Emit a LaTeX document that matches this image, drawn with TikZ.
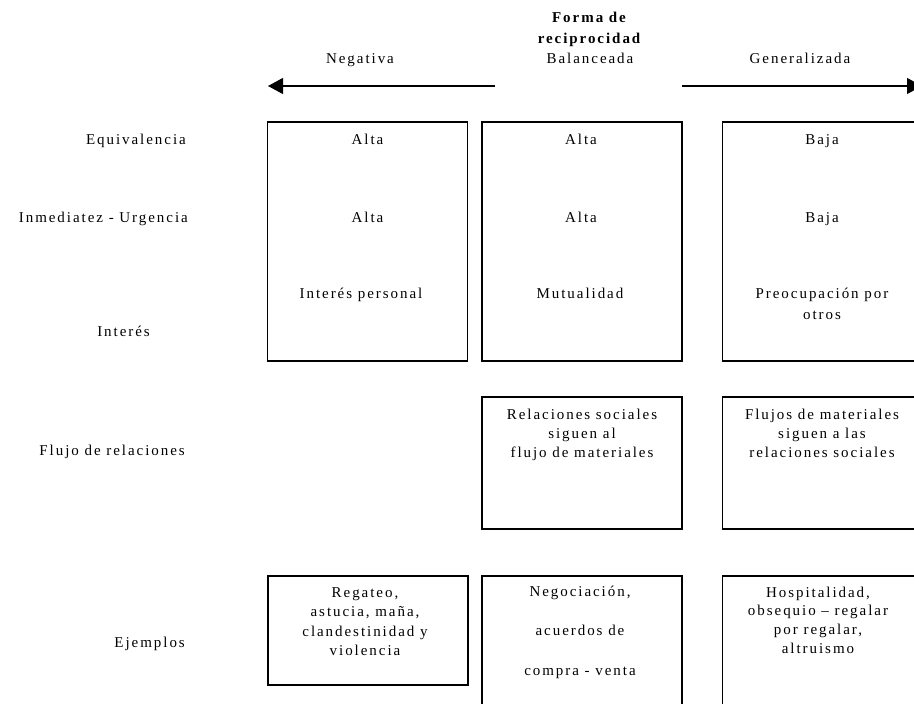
\documentclass[tikz,border=0pt]{standalone}
\usepackage{fontspec}
\setmainfont{Liberation Serif}[LetterSpace=13]
\usetikzlibrary{arrows.meta}

% multi-line nodes sit on the baseline of their last line
\tikzset{
  txt/.style={inner sep=0pt, align=center, text=black,
    font=\fontsize{15}{19.5}\selectfont},
  lbl/.style={txt, anchor=base east},
  cell/.style={draw=black, line width=1.1pt, minimum width=200pt, inner sep=0pt},
  dirarrow/.style={line width=1.1pt, -{Triangle[length=15pt,width=16pt]}}
}

\begin{document}
\begin{tikzpicture}[x=1pt, y=-1pt]
\path[use as bounding box, clip] (0,0) rectangle (914,704);

% heading and the two directions
\node[txt, anchor=base, font=\fontsize{15}{20}\selectfont] (head) at (590,63)
  {\textbf{Forma de}\\\textbf{reciprocidad}\\Balanceada};
\node[txt, anchor=base] (neg) at (360,63) {Negativa};
\node[txt, anchor=base] (gen) at (800,63) {Generalizada};
\coordinate (negstart) at (495,86);
\coordinate (negtip) at (268,86);
\coordinate (genstart) at (682,86);
\coordinate (gentip) at (922,86);
\draw[dirarrow] (negstart) -- (negtip);
\draw[dirarrow] (genstart) -- (gentip);

% row labels
\node[lbl] (equiv) at (186,144) {Equivalencia};
\node[lbl] (inmed) at (188,222) {Inmediatez - Urgencia};
\node[lbl] (inter) at (150,336) {Interés};
\node[lbl] (flujo) at (185,455) {Flujo de relaciones};
\node[lbl] (ejem) at (185,647) {Ejemplos};

% first block: equivalence, immediacy, interest
\node[cell, minimum height=239pt] (negA) at (367.5,241.5) {};
\node[cell, minimum height=239pt] (balA) at (582,241.5) {};
\node[cell, minimum height=239pt] (genA) at (822.5,241.5) {};

\node[txt, anchor=base] (negA1) at (367.5,144) {Alta};
\node[txt, anchor=base] (negA2) at (367.5,222) {Alta};
\node[txt, anchor=base] (negA3) at (361,298) {Interés personal};
\node[txt, anchor=base] (balA1) at (581,144) {Alta};
\node[txt, anchor=base] (balA2) at (581,222) {Alta};
\node[txt, anchor=base] (balA3) at (580,298) {Mutualidad};
\node[txt, anchor=base] (genA1) at (822,144) {Baja};
\node[txt, anchor=base] (genA2) at (822,222) {Baja};
\node[txt, anchor=base, font=\fontsize{15}{21}\selectfont] (genA3) at (822,319)
  {Preocupación por\\otros};

% second block: flow of relations
\node[cell, minimum height=132pt] (balB) at (582,463) {};
\node[cell, minimum height=132pt] (genB) at (822.5,463) {};
\node[txt, anchor=base, font=\fontsize{15}{19}\selectfont] (balB1) at (582,457)
  {Relaciones sociales\\siguen al\\flujo de materiales};
\node[txt, anchor=base, font=\fontsize{15}{19}\selectfont] (genB1) at (822,457)
  {Flujos de materiales\\siguen a las\\relaciones sociales};

% third block: examples
\node[cell, minimum height=109pt] (negC) at (368,630.5) {};
\node[cell, minimum height=150pt] (balC) at (582,651) {};
\node[cell, minimum height=150pt] (genC) at (822.5,651) {};
\node[txt, anchor=base] (negC1) at (365,655.5)
  {Regateo,\\astucia, maña,\\clandestinidad y\\violencia};
\node[txt, anchor=base, font=\fontsize{15}{39.5}\selectfont] (balC1) at (580,675)
  {Negociación,\\acuerdos de\\compra - venta};
\node[txt, anchor=base, font=\fontsize{15}{18.8}\selectfont] (genC1) at (818,653.4)
  {Hospitalidad,\\obsequio – regalar\\por regalar,\\altruismo};
\end{tikzpicture}
\end{document}
